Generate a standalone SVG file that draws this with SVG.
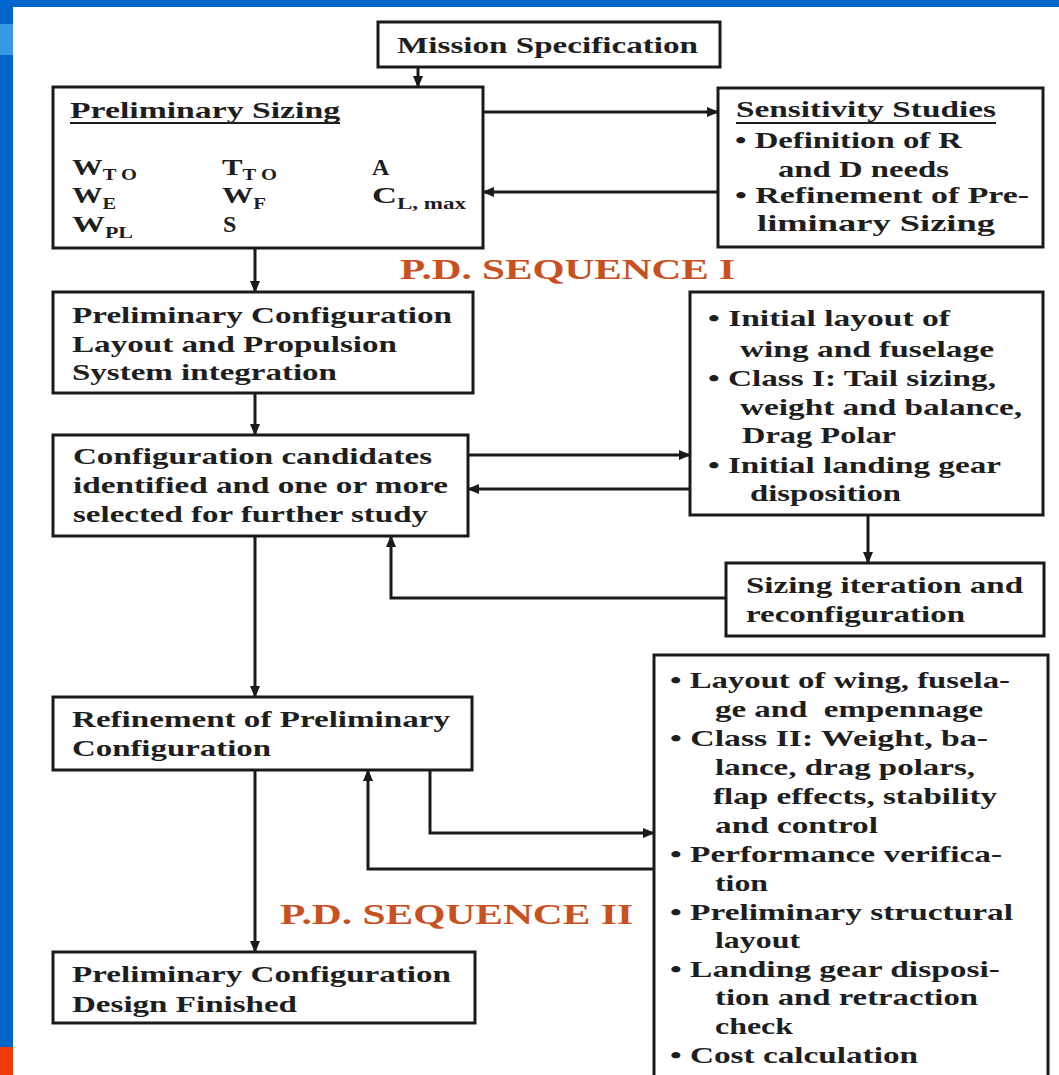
<svg xmlns="http://www.w3.org/2000/svg" width="1059" height="1075" viewBox="0 0 1059 1075">
<style>
.box{fill:#ffffff;stroke:#1a1a1a;stroke-width:3}
.t{font-family:"Liberation Serif","DejaVu Serif",serif;font-weight:bold;font-size:24px;fill:#1e1e1e}
.sub{font-size:16px}
.seq{font-family:"Liberation Serif","DejaVu Serif",serif;font-weight:bold;font-size:29px;fill:#c9511f}
.c{fill:none;stroke:#1a1a1a;stroke-width:3}
.ul{stroke:#1e1e1e;stroke-width:2}
</style>
<defs>
<marker id="ah" markerUnits="userSpaceOnUse" markerWidth="12" markerHeight="10" refX="11" refY="5" orient="auto">
<path d="M0,0 L12,5 L0,10 z" fill="#1a1a1a"/>
</marker>
</defs>
<rect x="0" y="0" width="1059" height="1075" fill="#ffffff"/>
<rect x="0" y="0" width="1059" height="7" fill="#0066cc"/>
<rect x="0" y="0" width="13" height="1075" fill="#0066cc"/>
<rect x="0" y="24" width="13" height="31" fill="#3a97e6"/>
<rect x="0" y="1047" width="13" height="28" fill="#f03a00"/>

<g id="connectors">
<path class="c" d="M418,67 V87" marker-end="url(#ah)"/>
<path class="c" d="M483,112 H718" marker-end="url(#ah)"/>
<path class="c" d="M718,192 H483" marker-end="url(#ah)"/>
<path class="c" d="M255,248 V292" marker-end="url(#ah)"/>
<path class="c" d="M255,393 V435" marker-end="url(#ah)"/>
<path class="c" d="M468,455 H690" marker-end="url(#ah)"/>
<path class="c" d="M690,489 H468" marker-end="url(#ah)"/>
<path class="c" d="M868,515 V563" marker-end="url(#ah)"/>
<path class="c" d="M726,598 H391 V536" marker-end="url(#ah)"/>
<path class="c" d="M255,536 V697" marker-end="url(#ah)"/>
<path class="c" d="M430,770 V833 H654" marker-end="url(#ah)"/>
<path class="c" d="M654,869 H368 V770" marker-end="url(#ah)"/>
<path class="c" d="M255,770 V952" marker-end="url(#ah)"/>
</g>

<g id="mission">
<rect class="box" x="378" y="22" width="342" height="45"/>
<text class="t" x="397" y="53" textLength="301" lengthAdjust="spacingAndGlyphs">Mission Specification</text>
</g>

<g id="prelim-sizing">
<rect class="box" x="53" y="87" width="430" height="161"/>
<text class="t" x="70" y="118" textLength="270" lengthAdjust="spacingAndGlyphs">Preliminary Sizing</text>
<line class="ul" x1="70" y1="123" x2="340" y2="123"/>
<text class="t" x="72" y="175" textLength="65" lengthAdjust="spacingAndGlyphs">W<tspan class="sub" dy="5">T O</tspan></text>
<text class="t" x="222" y="175" textLength="55" lengthAdjust="spacingAndGlyphs">T<tspan class="sub" dy="5">T O</tspan></text>
<text class="t" x="372" y="175">A</text>
<text class="t" x="72" y="203" textLength="44" lengthAdjust="spacingAndGlyphs">W<tspan class="sub" dy="6">E</tspan></text>
<text class="t" x="222" y="203" textLength="44" lengthAdjust="spacingAndGlyphs">W<tspan class="sub" dy="6">F</tspan></text>
<text class="t" x="372" y="203" textLength="94" lengthAdjust="spacingAndGlyphs">C<tspan class="sub" dy="6">L, max</tspan></text>
<text class="t" x="72" y="232" textLength="61" lengthAdjust="spacingAndGlyphs">W<tspan class="sub" dy="6">PL</tspan></text>
<text class="t" x="223" y="232">S</text>
</g>

<g id="sensitivity">
<rect class="box" x="718" y="88" width="325" height="159"/>
<text class="t" x="736" y="117" textLength="260" lengthAdjust="spacingAndGlyphs">Sensitivity Studies</text>
<line class="ul" x1="736" y1="123" x2="996" y2="123"/>
<text class="t" x="735" y="148" textLength="227" lengthAdjust="spacingAndGlyphs">• Definition of R</text>
<text class="t" x="778" y="177" textLength="171" lengthAdjust="spacingAndGlyphs">and D needs</text>
<text class="t" x="735" y="203" textLength="294" lengthAdjust="spacingAndGlyphs">• Refinement of Pre-</text>
<text class="t" x="757" y="231" textLength="238" lengthAdjust="spacingAndGlyphs">liminary Sizing</text>
</g>

<text class="seq" x="400" y="279" textLength="335" lengthAdjust="spacingAndGlyphs">P.D. SEQUENCE I</text>

<g id="prelim-config">
<rect class="box" x="53" y="292" width="420" height="101"/>
<text class="t" x="72" y="323" textLength="380" lengthAdjust="spacingAndGlyphs">Preliminary Configuration</text>
<text class="t" x="72" y="352" textLength="325" lengthAdjust="spacingAndGlyphs">Layout and Propulsion</text>
<text class="t" x="72" y="380" textLength="265" lengthAdjust="spacingAndGlyphs">System integration</text>
</g>

<g id="config-candidates">
<rect class="box" x="53" y="435" width="415" height="101"/>
<text class="t" x="73" y="464" textLength="359" lengthAdjust="spacingAndGlyphs">Configuration candidates</text>
<text class="t" x="73" y="493" textLength="375" lengthAdjust="spacingAndGlyphs">identified and one or more</text>
<text class="t" x="73" y="522" textLength="355" lengthAdjust="spacingAndGlyphs">selected for further study</text>
</g>

<g id="initial-layout">
<rect class="box" x="690" y="292" width="353" height="223"/>
<text class="t" x="708" y="326" textLength="242" lengthAdjust="spacingAndGlyphs">• Initial layout of</text>
<text class="t" x="740" y="357" textLength="254" lengthAdjust="spacingAndGlyphs">wing and fuselage</text>
<text class="t" x="708" y="386" textLength="288" lengthAdjust="spacingAndGlyphs">• Class I: Tail sizing,</text>
<text class="t" x="740" y="415" textLength="282" lengthAdjust="spacingAndGlyphs">weight and balance,</text>
<text class="t" x="742" y="443" textLength="154" lengthAdjust="spacingAndGlyphs">Drag Polar</text>
<text class="t" x="708" y="473" textLength="293" lengthAdjust="spacingAndGlyphs">• Initial landing gear</text>
<text class="t" x="750" y="501" textLength="151" lengthAdjust="spacingAndGlyphs">disposition</text>
</g>

<g id="sizing-iteration">
<rect class="box" x="726" y="563" width="318" height="73"/>
<text class="t" x="746" y="593" textLength="277" lengthAdjust="spacingAndGlyphs">Sizing iteration and</text>
<text class="t" x="746" y="622" textLength="219" lengthAdjust="spacingAndGlyphs">reconfiguration</text>
</g>

<g id="refinement">
<rect class="box" x="53" y="697" width="419" height="73"/>
<text class="t" x="72" y="727" textLength="378" lengthAdjust="spacingAndGlyphs">Refinement of Preliminary</text>
<text class="t" x="72" y="756" textLength="199" lengthAdjust="spacingAndGlyphs">Configuration</text>
</g>

<text class="seq" x="280" y="924" textLength="353" lengthAdjust="spacingAndGlyphs">P.D. SEQUENCE II</text>

<g id="finished">
<rect class="box" x="53" y="952" width="422" height="71"/>
<text class="t" x="72" y="982" textLength="379" lengthAdjust="spacingAndGlyphs">Preliminary Configuration</text>
<text class="t" x="72" y="1012" textLength="225" lengthAdjust="spacingAndGlyphs">Design Finished</text>
</g>

<g id="layout-class2">
<rect class="box" x="654" y="655" width="394" height="440"/>
<text class="t" x="670" y="688" textLength="340" lengthAdjust="spacingAndGlyphs">• Layout of wing, fusela-</text>
<text class="t" x="715" y="717" textLength="268" lengthAdjust="spacingAndGlyphs" xml:space="preserve">ge and  empennage</text>
<text class="t" x="670" y="746" textLength="318" lengthAdjust="spacingAndGlyphs">• Class II: Weight, ba-</text>
<text class="t" x="715" y="775" textLength="260" lengthAdjust="spacingAndGlyphs">lance, drag polars,</text>
<text class="t" x="713" y="804" textLength="284" lengthAdjust="spacingAndGlyphs">flap effects, stability</text>
<text class="t" x="715" y="833" textLength="163" lengthAdjust="spacingAndGlyphs">and control</text>
<text class="t" x="670" y="862" textLength="332" lengthAdjust="spacingAndGlyphs">• Performance verifica-</text>
<text class="t" x="715" y="891" textLength="53" lengthAdjust="spacingAndGlyphs">tion</text>
<text class="t" x="670" y="920" textLength="343" lengthAdjust="spacingAndGlyphs">• Preliminary structural</text>
<text class="t" x="715" y="948" textLength="85" lengthAdjust="spacingAndGlyphs">layout</text>
<text class="t" x="670" y="977" textLength="330" lengthAdjust="spacingAndGlyphs">• Landing gear disposi-</text>
<text class="t" x="715" y="1005" textLength="263" lengthAdjust="spacingAndGlyphs">tion and retraction</text>
<text class="t" x="715" y="1034" textLength="78" lengthAdjust="spacingAndGlyphs">check</text>
<text class="t" x="670" y="1063" textLength="248" lengthAdjust="spacingAndGlyphs">• Cost calculation</text>
</g>
</svg>
